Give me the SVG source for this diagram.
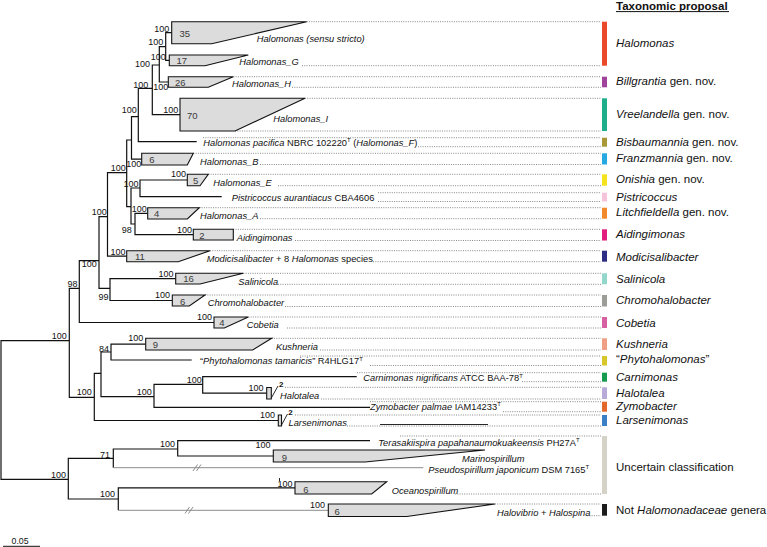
<svg xmlns="http://www.w3.org/2000/svg" width="767" height="547" viewBox="0 0 767 547">
<style>
text{font-family:"Liberation Sans",Arial,sans-serif;fill:#111}
.br{fill:none;stroke:#111;stroke-width:1.2}
.gb{fill:none;stroke:#8c8c8c;stroke-width:1}
.dot{fill:none;stroke:#555;stroke-width:0.7;stroke-dasharray:1 1.3}
.box{fill:#dcdcdc;stroke:#111;stroke-width:1.1}
.sp{font-size:9px;text-anchor:end}
.lb{font-size:9.3px}
.nm{font-size:9.5px;fill:#3a3a3a}
.tx{font-size:11.5px}
.i{font-style:italic}
.t2{font-size:8px;font-weight:bold}
</style>
<rect width="767" height="547" fill="#fff"/>
<g id="connectors">
<path class="br" d="M69.3,340.7H1V479.3H68.3"/>
<path class="br" d="M79.3,288.3H69.3V397.3H94.3"/>
<path class="br" d="M99,260.7H79.3V322.5H214"/>
<path class="br" d="M107.5,216.7H99V288.3H110"/>
<path class="br" d="M175.7,278.7H110V300.5H172.3"/>
<path class="br" d="M126.7,172.7H107.5V256.2H126.7"/>
<path class="br" d="M131.5,140H126.7V206.7H131"/>
<path class="br" d="M138.3,116.7H131.5V159.2H141.7"/>
<path class="br" d="M152.3,88.3H138.3V141.7H196.7"/>
<path class="br" d="M159.3,65H152.3V114.7H180"/>
<path class="br" d="M165.7,46.7H159.3V82H168.3"/>
<path class="br" d="M171.7,32.7H165.7V60.4H169.3"/>
<path class="br" d="M140,188H131V224H135"/>
<path class="br" d="M187.3,180H140V196.7H221.7"/>
<path class="br" d="M147.7,213.3H135V234.7H193.3"/>
<path class="br" d="M101,373.3H94.3V420.5H278.3"/>
<path class="br" d="M111,352H101V396.7H154"/>
<path class="br" d="M145.7,344.2H111V360H191.7"/>
<path class="br" d="M202.7,384.3H154V407.3H370"/>
<path class="br" d="M356.7,376.7H202.7V393.2H266.7"/>
<path class="br" d="M113.3,458.3H68.3V499H118.3"/>
<path class="br" d="M177.7,449H113.3V467.7"/>
<path class="gb" d="M113.3,467.7H423.3"/>
<path class="br" d="M370,440.7H177.7V456H273.3"/>
<path class="br" d="M295,487.8H118.3V510.3"/>
<path class="gb" d="M118.3,510.3H328.3"/>
<path class="gb" d="M193,471L197.5,464.5M196.5,471L201,464.5M185,513.5L189.5,507M188.5,513.5L193,507"/>
</g>
<g id="supports">
<text class="sp" x="169.3" y="31.5">100</text>
<text class="sp" x="163.3" y="44.8">100</text>
<text class="sp" x="165.7" y="59.8">100</text>
<text class="sp" x="150" y="66.5">100</text>
<text class="sp" x="148.3" y="88">100</text>
<text class="sp" x="168.3" y="89.5">100</text>
<text class="sp" x="136.7" y="113">100</text>
<text class="sp" x="178.3" y="112.5">100</text>
<text class="sp" x="141.2" y="166.5">100</text>
<text class="sp" x="125.7" y="170.8">100</text>
<text class="sp" x="186" y="177">100</text>
<text class="sp" x="138.5" y="186.5">100</text>
<text class="sp" x="146.7" y="211.5">100</text>
<text class="sp" x="131.7" y="233">98</text>
<text class="sp" x="192" y="233">100</text>
<text class="sp" x="125.5" y="255">100</text>
<text class="sp" x="106.7" y="215">100</text>
<text class="sp" x="96.7" y="266.5">100</text>
<text class="sp" x="77.5" y="286.5">98</text>
<text class="sp" x="108.5" y="299.5">99</text>
<text class="sp" x="173.5" y="276.5">100</text>
<text class="sp" x="170" y="298">100</text>
<text class="sp" x="212" y="320">100</text>
<text class="sp" x="66.7" y="339">100</text>
<text class="sp" x="143.3" y="341">100</text>
<text class="sp" x="109" y="351.5">84</text>
<text class="sp" x="91.7" y="395">100</text>
<text class="sp" x="151.7" y="395">100</text>
<text class="sp" x="201.7" y="383">100</text>
<text class="sp" x="263.5" y="390.5">100</text>
<text class="sp" x="275" y="418.3">100</text>
<text class="sp" x="66" y="477.5">100</text>
<text class="sp" x="110" y="457.5">71</text>
<text class="sp" x="175" y="447">100</text>
<text class="sp" x="270.5" y="447.5">100</text>
<text class="sp" x="115" y="497">100</text>
<text class="sp" x="292.5" y="486.5">100</text>
<path d="M279.5,478V481" stroke="#111" stroke-width="0.9"/>
<text class="sp" x="325" y="508">100</text>
</g>
<g id="dotted">
<path class="dot" d="M306.7,21.7H601M302,65.7H601M233.3,76.7H601M292,87.3H601M305,98.3H601M235,131H601M203,137.7H601M418,146.7H601M193.3,153.3H601M260,164.5H601M208.3,174.3H601M278,185.7H601M378,192.7H601M378,201.5H601M199.3,207.7H601M260,218.7H601M233.3,229.3H601M295,240.5H601M210,250.7H601M373,261.7H601M243.3,273.3H601M278,284.3H601M205,295H601M285,306.5H601M248.3,317H601M287,328H601M271.7,338.3H601M320,350H601M300,356H601M370,365.5H601M357,372.7H601M522,381.7H601M285,387.3H601M321,399H601M370,401.7H601M503,411.7H601M295,415H601M347,426H601M400,436H601M455,494H601M495,504H601M587,515.7H601"/>
<path d="M380,424.5H488" stroke="#111" stroke-width="0.9"/>
</g>
<g id="clade-halomonas-ss"><path class="box" d="M171.7,21.7H306.7L211.7,43.7H171.7Z"/><text class="nm" x="179.5" y="36.5">35</text><text class="lb i" x="256.7" y="42">Halomonas (sensu stricto)</text></g>
<g id="clade-halomonas-g"><path class="box" d="M169.3,55H248.3L205,65.7H169.3Z"/><text class="nm" x="176.5" y="64">17</text><text class="lb i" x="239.3" y="65">Halomonas_G</text></g>
<g id="clade-halomonas-h"><path class="box" d="M168.3,76.7H233.3L208.3,87.3H168.3Z"/><text class="nm" x="175" y="86">26</text><text class="lb i" x="232" y="87">Halomonas_H</text></g>
<g id="clade-halomonas-i"><path class="box" d="M180,98.3H305L235,131H180Z"/><text class="nm" x="187" y="119">70</text><text class="lb i" x="273.3" y="121.5">Halomonas_I</text></g>
<g id="leaf-pacifica"><text class="lb" x="203.3" y="145.5"><tspan class="i">Halomonas pacifica</tspan> NBRC 102220<tspan dy="-3.5" font-size="6">T</tspan><tspan dy="3.5"> (</tspan><tspan class="i">Halomonas_F</tspan>)</text></g>
<g id="clade-halomonas-b"><path class="box" d="M141.7,153.3H193.3L187.3,165H141.7Z"/><text class="nm" x="149.3" y="162.5">6</text><text class="lb i" x="200" y="165">Halomonas_B</text></g>
<g id="clade-halomonas-e"><path class="box" d="M187.3,174.3H208.3L200,185.7H187.3Z"/><text class="nm" x="193" y="184">5</text><text class="lb i" x="213.3" y="186">Halomonas_E</text></g>
<g id="leaf-pistricoccus"><text class="lb" x="231.7" y="201"><tspan class="i">Pistricoccus aurantiacus</tspan> CBA4606</text></g>
<g id="clade-halomonas-a"><path class="box" d="M147.7,207.7H199.3L187.3,219H147.7Z"/><text class="nm" x="154" y="217">4</text><text class="lb i" x="200" y="219">Halomonas_A</text></g>
<g id="clade-aidingimonas"><path class="box" d="M193.3,229.3H233.3V240H193.3Z"/><text class="nm" x="199.3" y="238.5">2</text><text class="lb i" x="236.7" y="241">Aidingimonas</text></g>
<g id="clade-modicisalibacter"><path class="box" d="M126.7,250.7H210L178.3,261.7H126.7Z"/><text class="nm" x="135" y="260.3">11</text><text class="lb" x="206.7" y="261.5"><tspan class="i">Modicisalibacter</tspan> + 8 <tspan class="i">Halomonas</tspan> species</text></g>
<g id="clade-salinicola"><path class="box" d="M175.7,273.3H243.3L200,284H175.7Z"/><text class="nm" x="183.3" y="282.3">16</text><text class="lb i" x="238.3" y="284.5">Salinicola</text></g>
<g id="clade-chromohalobacter"><path class="box" d="M172.3,295H205L189.3,306H172.3Z"/><text class="nm" x="180" y="304.5">6</text><text class="lb i" x="207.7" y="306">Chromohalobacter</text></g>
<g id="clade-cobetia"><path class="box" d="M214,317H248.3L224.3,328H214Z"/><text class="nm" x="219.3" y="326.3">4</text><text class="lb i" x="246.7" y="327.5">Cobetia</text></g>
<g id="clade-kushneria"><path class="box" d="M145.7,338.3H271.7L252.7,350H145.7Z"/><text class="nm" x="152.7" y="347.8">9</text><text class="lb i" x="276" y="349.5">Kushneria</text></g>
<g id="leaf-phytohalomonas"><text class="lb" x="200" y="364">“<tspan class="i">Phytohalomonas tamaricis</tspan>” R4HLG17<tspan dy="-3.5" font-size="6">T</tspan></text></g>
<g id="leaf-carnimonas"><text class="lb" x="363.3" y="381"><tspan class="i">Carnimonas nigrificans</tspan> ATCC BAA-78<tspan dy="-3.5" font-size="6">T</tspan></text></g>
<g id="clade-halotalea"><path class="box" d="M266.7,387.5H271.3V399H266.7Z"/><path d="M271.3,398L278,386" stroke="#111" stroke-width="0.9"/><text class="t2" x="279" y="386.5">2</text><text class="lb i" x="280" y="398.5">Halotalea</text></g>
<g id="leaf-zymobacter"><text class="lb" x="370" y="409.5"><tspan class="i">Zymobacter palmae</tspan> IAM14233<tspan dy="-3.5" font-size="6">T</tspan></text></g>
<g id="clade-larsenimonas"><path class="box" d="M278.3,415H281.5V426H278.3Z"/><path d="M281.5,425L287.5,414" stroke="#111" stroke-width="0.9"/><text class="t2" x="288.3" y="414.5">2</text><text class="lb i" x="288.5" y="426">Larsenimonas</text></g>
<g id="leaf-terasakiispira"><text class="lb" x="378.3" y="445.5"><tspan class="i">Terasakiispira papahanaumokuakeensis</tspan> PH27A<tspan dy="-3.5" font-size="6">T</tspan></text></g>
<g id="clade-marinospirillum"><path class="box" d="M273.3,450H485L365,462H273.3Z"/><text class="nm" x="281.7" y="461.3">9</text><text class="lb i" x="462" y="462">Marinospirillum</text></g>
<g id="leaf-pseudospirillum"><text class="lb" x="428.3" y="472.5"><tspan class="i">Pseudospirillum japonicum</tspan> DSM 7165<tspan dy="-3.5" font-size="6">T</tspan></text></g>
<g id="clade-oceanospirillum"><path class="box" d="M295,481.7H386.7L371.7,494H295Z"/><text class="nm" x="303.3" y="492.8">6</text><text class="lb i" x="391.7" y="493.5">Oceanospirillum</text></g>
<g id="clade-halovibrio"><path class="box" d="M328.3,504H495L406.7,516.5H328.3Z"/><text class="nm" x="334.5" y="514.8">6</text><text class="lb" x="497" y="516"><tspan class="i">Halovibrio</tspan> + <tspan class="i">Halospina</tspan></text></g>
<g id="proposal">
<text x="616" y="9.5" font-size="11.5" font-weight="bold">Taxonomic proposal</text>
<path d="M616,11.6H729" stroke="#111" stroke-width="1"/>
<rect x="602" y="21.7" width="5" height="44" fill="#eb4a2a"/><text class="tx i" x="616" y="46.5">Halomonas</text>
<rect x="602" y="76.7" width="5" height="10.6" fill="#a0449b"/><text class="tx" x="616" y="85"><tspan class="i">Billgrantia</tspan> gen. nov.</text>
<rect x="602" y="98.3" width="5" height="32.7" fill="#1fae8c"/><text class="tx" x="616" y="118.2"><tspan class="i">Vreelandella</tspan> gen. nov.</text>
<rect x="602" y="137.7" width="5" height="9" fill="#a89838"/><text class="tx" x="616" y="146"><tspan class="i">Bisbaumannia</tspan> gen. nov.</text>
<rect x="602" y="153.3" width="5" height="11.2" fill="#26a9e0"/><text class="tx" x="616" y="161.5"><tspan class="i">Franzmannia</tspan> gen. nov.</text>
<rect x="602" y="174.3" width="5" height="11.4" fill="#f4e31e"/><text class="tx" x="616" y="183.2"><tspan class="i">Onishia</tspan> gen. nov.</text>
<rect x="602" y="192.7" width="5" height="8.8" fill="#f5c4da"/><text class="tx i" x="616" y="201.3">Pistricoccus</text>
<rect x="602" y="207.7" width="5" height="11" fill="#f08a2c"/><text class="tx" x="616" y="216"><tspan class="i">Litchfieldella</tspan> gen. nov.</text>
<rect x="602" y="229.3" width="5" height="11.2" fill="#e21d7e"/><text class="tx i" x="616" y="238.2">Aidingimonas</text>
<rect x="602" y="250.7" width="5" height="11" fill="#2d2e83"/><text class="tx i" x="616" y="260.5">Modicisalibacter</text>
<rect x="602" y="273.3" width="5" height="11" fill="#92d6cc"/><text class="tx i" x="616" y="282.5">Salinicola</text>
<rect x="602" y="295" width="5" height="11.5" fill="#9d9d98"/><text class="tx i" x="616" y="304.2">Chromohalobacter</text>
<rect x="602" y="317" width="5" height="11" fill="#d660a1"/><text class="tx i" x="616" y="326.5">Cobetia</text>
<rect x="602" y="338.3" width="5" height="11.7" fill="#ef9f86"/><text class="tx i" x="616" y="348.2">Kushneria</text>
<rect x="602" y="356" width="5" height="9.5" fill="#d8c72b"/><text class="tx" x="616" y="363.2">“<tspan class="i">Phytohalomonas</tspan>”</text>
<rect x="602" y="372.7" width="5" height="9" fill="#159a4e"/><text class="tx i" x="616" y="380.9">Carnimonas</text>
<rect x="602" y="387.3" width="5" height="11.7" fill="#b7a9d8"/><text class="tx i" x="616" y="397.2">Halotalea</text>
<rect x="602" y="401.7" width="5" height="10" fill="#e3692a"/><text class="tx i" x="616" y="409.9">Zymobacter</text>
<rect x="602" y="415" width="5" height="11" fill="#3b7fc4"/><text class="tx i" x="616" y="424.2">Larsenimonas</text>
<rect x="602" y="436" width="5" height="58" fill="#d5d3c8"/><text class="tx" x="616" y="470.9">Uncertain classification</text>
<rect x="602" y="504" width="5" height="11.7" fill="#1c1c1c"/><text class="tx" x="616" y="514"><tspan>Not </tspan><tspan class="i">Halomonadaceae</tspan> genera</text>
</g>
<g id="scale">
<text x="11.5" y="543.5" font-size="8.8">0.05</text>
<path d="M3,546.3H40" stroke="#111" stroke-width="1"/>
</g>
</svg>
